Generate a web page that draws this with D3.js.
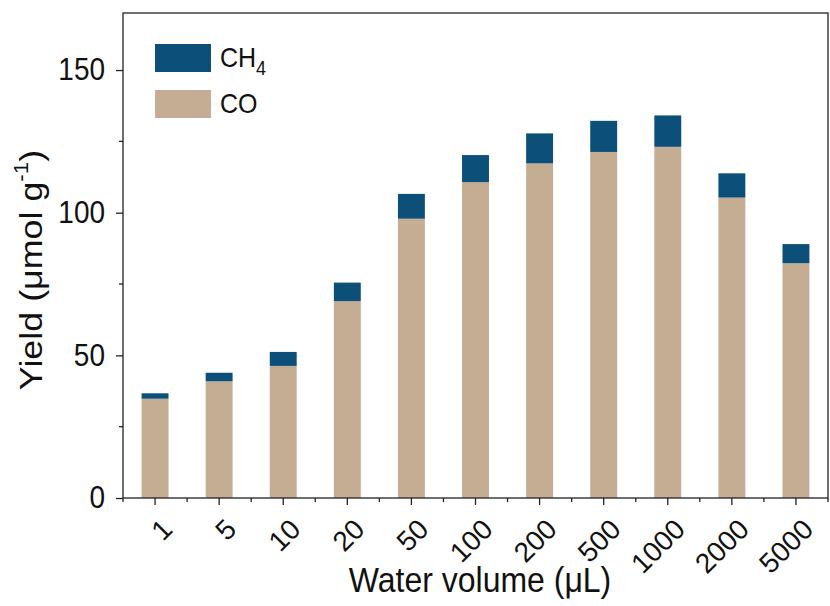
<!DOCTYPE html>
<html>
<head>
<meta charset="utf-8">
<script src="https://cdn.jsdelivr.net/npm/d3@7"></script>
<style>
  body { margin: 0; background: #fff; }
  svg { font-family: "Liberation Sans", Arial, sans-serif; }
</style>
</head>
<body>
<svg id="chart" width="830" height="606"></svg>
<script>
const volumes = ["1", "5", "10", "20", "50", "100", "200", "500", "1000", "2000", "5000"];
const coYield = [34.8, 40.9, 46.3, 69.0, 97.9, 110.7, 117.3, 121.3, 123.1, 105.3, 82.3];
const totalYield = [36.7, 43.9, 51.2, 75.5, 106.6, 120.2, 127.8, 132.2, 134.1, 113.8, 89.0];
const yTicks = [0, 50, 100, 150];
const yMinor = [25, 75, 125];

const C_CH4 = "#0c4f78";
const C_CO = "#c5ad93";
const SY = 1.1; // the original figure's text is a bit taller than wide

const svg = d3.select("#chart");
const M = { top: 13, right: 2, bottom: 108, left: 123 };
const W = 830 - M.left - M.right;
const H = 606 - M.top - M.bottom;

const g = svg.append("g").attr("transform", `translate(${M.left},${M.top})`);

const x = d3.scaleBand().domain(volumes).range([0, W]).paddingInner(0.58).paddingOuter(0.29);
const y = d3.scaleLinear().domain([0, 170]).range([H, 0]);

const rows = volumes.map((v, i) => ({ v, co: coYield[i], total: totalYield[i] }));

// CO part
g.append("g").selectAll("rect")
  .data(rows)
  .join("rect")
  .attr("x", d => x(d.v))
  .attr("width", x.bandwidth())
  .attr("y", d => y(d.co))
  .attr("height", d => y(0) - y(d.co))
  .attr("fill", C_CO);

// CH4 on top
g.append("g").selectAll("rect")
  .data(rows)
  .join("rect")
  .attr("x", d => x(d.v))
  .attr("width", x.bandwidth())
  .attr("y", d => y(d.total))
  .attr("height", d => y(d.co) - y(d.total))
  .attr("fill", C_CH4);

// frame
g.append("rect")
  .attr("width", W).attr("height", H)
  .attr("fill", "none").attr("stroke", "#222").attr("stroke-width", 1.3);

// y axis
const yAxis = g.append("g")
  .call(d3.axisLeft(y).tickValues(yTicks).tickSize(7).tickPadding(11));
yAxis.select(".domain").remove();
yAxis.selectAll("line").attr("stroke", "#222").attr("stroke-width", 1.3);
yAxis.selectAll("text")
  .attr("font-size", 28).attr("fill", "#111").attr("font-family", null)
  .attr("transform", `scale(1,${SY})`);

g.append("g").selectAll("line")
  .data(yMinor)
  .join("line")
  .attr("x1", -4).attr("x2", 0)
  .attr("y1", d => y(d)).attr("y2", d => y(d))
  .attr("stroke", "#222").attr("stroke-width", 1.3);

// x axis
const step = x.step();
const xAxis = g.append("g")
  .attr("transform", `translate(0,${H})`)
  .call(d3.axisBottom(x).tickSize(7).tickPadding(0));
xAxis.select(".domain").remove();
xAxis.selectAll("line").attr("stroke", "#222").attr("stroke-width", 1.3);
xAxis.selectAll("text")
  .attr("font-size", 28)
  .attr("fill", "#111")
  .attr("font-family", null)
  .attr("text-anchor", "end")
  .attr("transform", "translate(12,26) rotate(-45)")
  .attr("y", 0).attr("dy", "0.35em");

// minor x ticks at band boundaries
g.append("g").selectAll("line")
  .data(d3.range(volumes.length + 1))
  .join("line")
  .attr("x1", i => i * step).attr("x2", i => i * step)
  .attr("y1", H).attr("y2", H + 4)
  .attr("stroke", "#222").attr("stroke-width", 1.3);

// axis titles
svg.append("text")
  .attr("transform", `translate(480,592) scale(1,${SY})`)
  .attr("text-anchor", "middle")
  .attr("font-size", 32)
  .attr("fill", "#111")
  .text("Water volume (μL)");

const yt = svg.append("text")
  .attr("transform", `translate(42,270) scale(1,1.12) rotate(-90)`)
  .attr("text-anchor", "middle")
  .attr("font-size", 32)
  .attr("fill", "#111");
yt.append("tspan").text("Yield (μmol g");
yt.append("tspan").attr("font-size", 20).attr("dy", -14).text("-1");
yt.append("tspan").attr("dy", 14).text(")");

// legend
const legend = [
  { label: "CH", sub: "4", color: C_CH4 },
  { label: "CO", sub: null, color: C_CO }
];
const lg = svg.append("g").attr("transform", "translate(155,44)");
legend.forEach((d, i) => {
  const row = lg.append("g").attr("transform", `translate(0,${i * 46})`);
  row.append("rect").attr("width", 56).attr("height", 28).attr("fill", d.color);
  const t = row.append("text")
    .attr("transform", `translate(65,23) scale(1,${SY})`)
    .attr("font-size", 25).attr("fill", "#111").text(d.label);
  if (d.sub) t.append("tspan").attr("font-size", 18).attr("dy", 7).text(d.sub);
});
</script>
</body>
</html>
